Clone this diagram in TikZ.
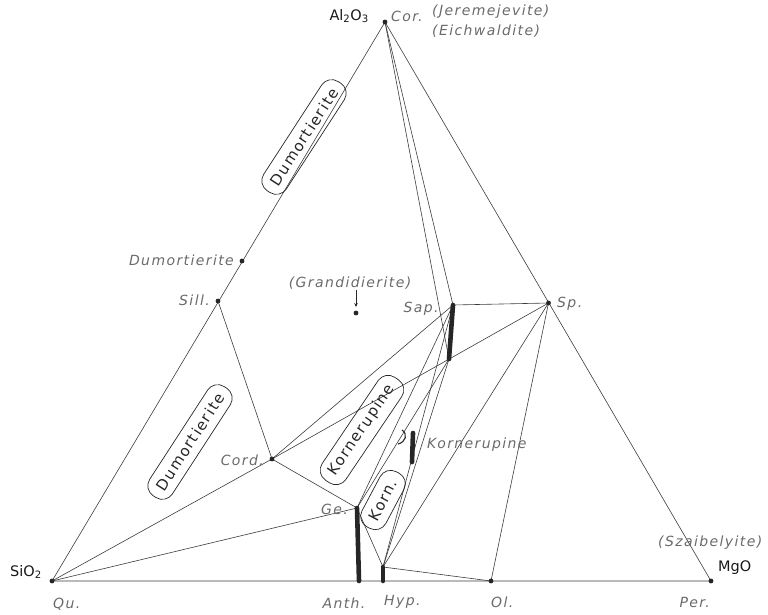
\documentclass[tikz,border=0pt]{standalone}
\usepackage{fontspec}
\setmainfont{DejaVu Sans}
\newfontfamily\labfont[LetterSpace=10,ItalicFont={DejaVu Sans Oblique}]{DejaVu Sans}
\newfontfamily\boxfont[LetterSpace=10]{DejaVu Sans}
\usetikzlibrary{arrows.meta}
\definecolor{labgray}{HTML}{6A6A6A}
\definecolor{lingray}{HTML}{3C3C3C}
\begin{document}
\begin{tikzpicture}[x=1pt,y=-1pt,
  lab/.style={font=\labfont\itshape\fontsize{14}{16}\selectfont, text=labgray, inner sep=0pt},
  big/.style={font=\fontsize{14.5}{16}\selectfont, text=black!90, inner sep=0pt},
  box/.style={draw=black!85, line width=0.7pt, rounded corners=12pt,
     font=\boxfont\fontsize{15}{17}\selectfont, text=black!85,
     inner xsep=9pt, inner ysep=7pt, minimum height=27pt},
  tie/.style={draw=lingray, line width=0.6pt},
  bar/.style={draw=black!85, line width=4.6pt, line cap=round},
  dotc/.style={fill=black!85}]
\useasboundingbox (0,0) rectangle (768,614);
% points
\coordinate (Qu) at (52,581);
\coordinate (Cor) at (385,22);
\coordinate (Per) at (711,581);
\coordinate (Sill) at (218,301);
\coordinate (Dum) at (242,261);
\coordinate (Gr) at (356,313);
\coordinate (GrA) at (356,290);
\coordinate (GrB) at (356,307);
\coordinate (Cord) at (272,459);
\coordinate (Sp) at (548.5,303);
\coordinate (SapT) at (453,305);
\coordinate (SapB) at (449,359);
\coordinate (GeT) at (357,508);
\coordinate (Anth) at (359,581);
\coordinate (HypT) at (383,567);
\coordinate (Hyp) at (383,581);
\coordinate (Ol) at (491,581);
\coordinate (KoT) at (413,433);
\coordinate (KoB) at (412,462);
% triangle
\path[tie] (Qu) -- (Cor) -- (Per) -- (Qu);
% tie lines
\path[tie] (Qu) -- (Cord);
\path[tie] (Qu) -- (GeT);
\path[tie] (Sill) -- (Cord);
\path[tie] (Cord) -- (SapT);
\path[tie] (Cord) -- (Sp);
\path[tie] (Cord) -- (GeT);
\path[tie] (Cor) -- (SapT);
\path[tie] (Cor) -- (SapB);
\path[tie] (SapT) -- (Sp);
\path[tie] (GeT) -- (SapT);
\path[tie] (GeT) -- (SapB);
\path[tie] (GeT) -- (HypT);
\path[tie] (HypT) -- (SapT);
\path[tie] (HypT) -- (SapB);
\path[tie] (HypT) -- (Sp);
\path[tie] (HypT) -- (Ol);
\path[tie] (Sp) -- (Ol);
% bars
\path[bar] (SapT) -- (SapB);
\path[bar] (GeT) -- (Anth);
\path[bar] (HypT) -- (Hyp);
\path[bar] (KoT) -- (KoB);
% small mark
\draw[black!85, line width=1.1pt] (402,430) .. controls (408,434) and (406,442) .. (398,444);
% dots
\foreach \p in {Qu,Cor,Per,Sill,Dum,Gr,Cord,Sp,Ol}
  \fill[dotc] (\p) circle[radius=2.4pt];
\draw[black!85, line width=0.7pt, -{Stealth[length=4pt,width=3.5pt]}] (GrA) -- (GrB);
% boxes
\node[box, rotate=57] (b1) at (304,137) {Dumortierite};
\node[box, rotate=57] (b2) at (190,442) {Dumortierite};
\node[box, rotate=56] (b3) at (362,430) {Kornerupine};
\node[box, rotate=62] (b4) at (383,500) {Korn.};
% big labels
\node[big, anchor=east] (lAl) at (369,16) {Al\textsubscript{2}O\textsubscript{3}};
\node[big] (lSi) at (26,572) {SiO\textsubscript{2}};
\node[big, anchor=west] (lMg) at (718,568) {MgO};
% italic labels
\node[lab, anchor=west] (lCor) at (391,16) {Cor.};
\node[lab, anchor=west] (lJer) at (432,12) {(Jeremejevite)};
\node[lab, anchor=west] (lEich) at (432,31) {(Eichwaldite)};
\node[lab, anchor=east] (lDum) at (234,260) {Dumortierite};
\node[lab, anchor=east] (lSill) at (210,300) {Sill.};
\node[lab] (lGr) at (350,283) {(Grandidierite)};
\node[lab] (lSap) at (421,309) {Sap.};
\node[lab, anchor=west] (lSp) at (557,304) {Sp.};
\node[lab, anchor=east] (lCord) at (264,460) {Cord.};
\node[lab, anchor=east] (lGe) at (348,509) {Ge.};
\node[lab, anchor=west] (lKorn) at (427,445) {Kornerupine};
\node[lab, anchor=west] (lSz) at (658,543) {(Szaibelyite)};
\node[lab, anchor=west] (lQu) at (53,604) {Qu.};
\node[lab] (lAnth) at (344,603) {Anth.};
\node[lab, anchor=west] (lHyp) at (384,602) {Hyp.};
\node[lab, anchor=west] (lOl) at (491,602) {Ol.};
\node[lab, anchor=east] (lPer) at (710,602) {Per.};
\end{tikzpicture}
\end{document}
